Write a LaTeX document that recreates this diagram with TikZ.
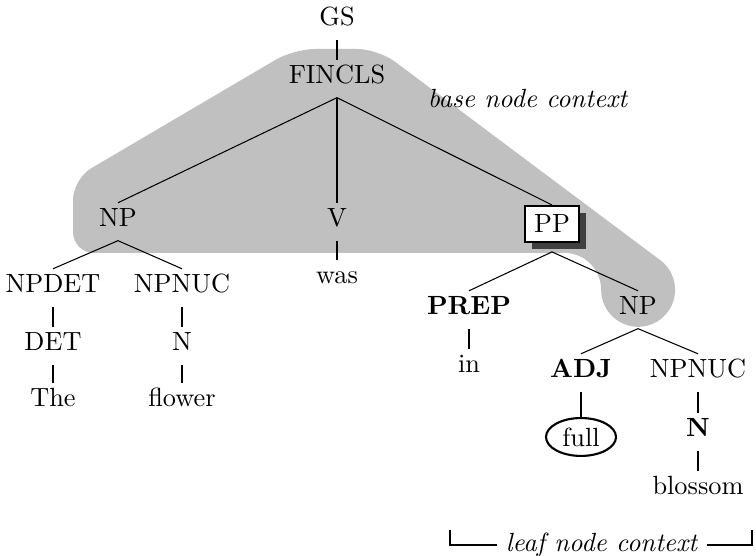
\documentclass[tikz,border=0pt]{standalone}
\usetikzlibrary{shapes.geometric,shadows}
\definecolor{hullgray}{RGB}{192,192,192}
\tikzset{
    tn/.style={inner sep=0pt, text height=9pt, text depth=5pt, anchor=base},
    stem/.style={line width=0.8pt},
    branch/.style={line width=0.4pt},
    bracket/.style={line width=0.8pt},
}
\begin{document}
\begin{tikzpicture}[x=0.38pt, y=0.38pt]
        \useasboundingbox (0,0) rectangle (756,556);

        \fill[hullgray] (564,303) [rounded corners=8pt] -- (73,303) -- (73,377) -- (294,507) -- (378,507)
            [sharp corners] -- (660,296)
            arc[start angle=53.7, end angle=-180, radius=14.06pt]
            arc[start angle=0, end angle=90, radius=14.06pt];

        \node[tn] (gs) at (337,530) {GS};
        \node[tn] (fincls) at (337,472) {FINCLS};
        \node[tn] (np1) at (118,329) {NP};
        \node[tn] (v) at (337,329) {V};
        \node[draw, fill=white, line width=0.6pt, inner sep=3.5pt,
              general shadow={fill=black!75, shadow xshift=2.6pt, shadow yshift=-2.6pt}] (pp) at (552,332) {PP};
        \coordinate (ppfoot) at ([yshift=-3.4pt]pp.south);

        \node[tn] (was) at (337,272) {was};
        \node[tn] (npdet) at (53,263) {NPDET};
        \node[tn] (npnuc1) at (182,263) {NPNUC};
        \node[tn] (det) at (53,205) {DET};
        \node[tn] (n1) at (182,205) {N};
        \node[tn] (the) at (53,149) {The};
        \node[tn] (flower) at (182,149) {flower};

        \node[tn] (prep) at (469,241) {\textbf{PREP}};
        \node[tn] (np2) at (638,241) {NP};
        \node[tn] (in) at (469,183) {in};
        \node[tn] (adj) at (581,178) {\textbf{ADJ}};
        \node[tn] (npnuc2) at (698,178) {NPNUC};
        \node[ellipse, draw, line width=0.8pt, inner sep=0pt,
              minimum width=26.6pt, minimum height=14.4pt] (full) at (581,119) {full};
        \node[tn] (n2) at (698,119) {\textbf{N}};
        \node[tn] (blossom) at (698,61) {blossom};

        \node[anchor=base] (basectx) at (528,448) {\textit{base node context}};
        \node[inner xsep=3pt] (leafctx) at (602,11) {\textit{leaf node context}};

        \draw[stem] (gs.south) -- (fincls.north);
        \draw[branch] (fincls.south) -- (np1.north);
        \draw[stem] (fincls.south) -- (v.north);
        \draw[branch] (fincls.south) -- (pp.north);

        \draw[branch] (np1.south) -- (npdet.north);
        \draw[branch] (np1.south) -- (npnuc1.north);
        \draw[stem] (v.south) -- (was.north);
        \draw[stem] (npdet.south) -- (det.north);
        \draw[stem] (det.south) -- (the.north);
        \draw[stem] (npnuc1.south) -- (n1.north);
        \draw[stem] (n1.south) -- (flower.north);

        \draw[branch] (ppfoot) -- (prep.north);
        \draw[branch] (ppfoot) -- (np2.north);
        \draw[stem] (prep.south) -- (in.north);
        \draw[branch] (np2.south) -- (adj.north);
        \draw[branch] (np2.south) -- (npnuc2.north);
        \draw[stem] (adj.south) -- (full.north);
        \draw[stem] (npnuc2.south) -- (n2.north);
        \draw[stem] (n2.south) -- (blossom.north);

        \draw[bracket] (leafctx.west) -| (450,26);
        \draw[bracket] (leafctx.east) -| (752,26);
    \end{tikzpicture}
\end{document}
